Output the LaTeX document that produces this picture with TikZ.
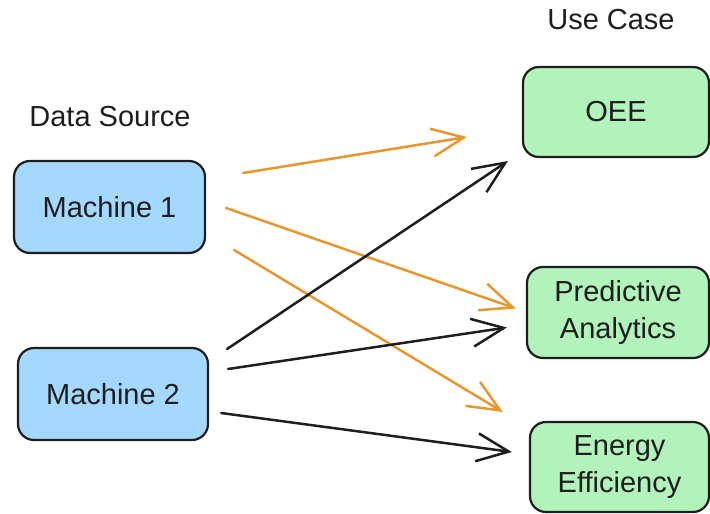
\documentclass[tikz,border=0pt]{standalone}
\usepackage{fontspec}
\setmainfont{Liberation Sans}
\usetikzlibrary{arrows.meta}
\definecolor{srcblue}{HTML}{A5D8FF}
\definecolor{usegreen}{HTML}{B2F2BB}
\definecolor{flowor}{HTML}{E8962E}
\definecolor{ink}{HTML}{1E1E1E}

\begin{document}
\begin{tikzpicture}[x=1pt,y=-1pt,
  box/.style={draw=ink,line width=2.2pt,rounded corners=16pt,align=center,
    text=ink,inner sep=0pt,font=\fontsize{29}{37}\selectfont},
  head/.style={text=ink,font=\fontsize{29}{34}\selectfont},
  flow/.style={line width=2.5pt,line cap=round,
    -{Straight Barb[length=32pt,width=28pt,line width=2.5pt]}}]
  \useasboundingbox (0,0) rectangle (710,514);

  % headings
  \node[head] (dsrc) at (110,117) {Data Source};
  \node[head] (ucase) at (611,20) {Use Case};

  % machines
  \node[box,fill=srcblue,minimum width=191pt,minimum height=92pt] (m1) at (109.5,207) {Machine 1};
  \node[box,fill=srcblue,minimum width=190pt,minimum height=92pt] (m2) at (113,394) {Machine 2};

  % use cases
  \node[box,fill=usegreen,minimum width=186pt,minimum height=90pt] (oee) at (616,112) {OEE};
  \node[box,fill=usegreen,minimum width=182pt,minimum height=91pt] (pa) at (618,312.5) {Predictive\\Analytics};
  \node[box,fill=usegreen,minimum width=179pt,minimum height=90pt] (ee) at (619.5,467) {Energy\\Efficiency};

  % machine 1
  \draw[flow,flowor] ([shift={(37,-34)}]m1.east) -- ([shift={(-55,25)}]oee.west);
  \draw[flow,flowor] ([shift={(20,1)}]m1.east) -- ([shift={(-10,-4)}]pa.west);
  \draw[flow,flowor] ([shift={(28,43)}]m1.east) -- ([shift={(-26,-55)}]ee.west);

  % machine 2
  \draw[flow,ink] ([shift={(18,-45)}]m2.east) -- ([shift={(-14,49)}]oee.west);
  \draw[flow,ink] ([shift={(19,-25)}]m2.east) -- ([shift={(-19,15)}]pa.west);
  \draw[flow,ink] ([shift={(12,19)}]m2.east) -- ([shift={(-17,-15)}]ee.west);
\end{tikzpicture}
\end{document}
